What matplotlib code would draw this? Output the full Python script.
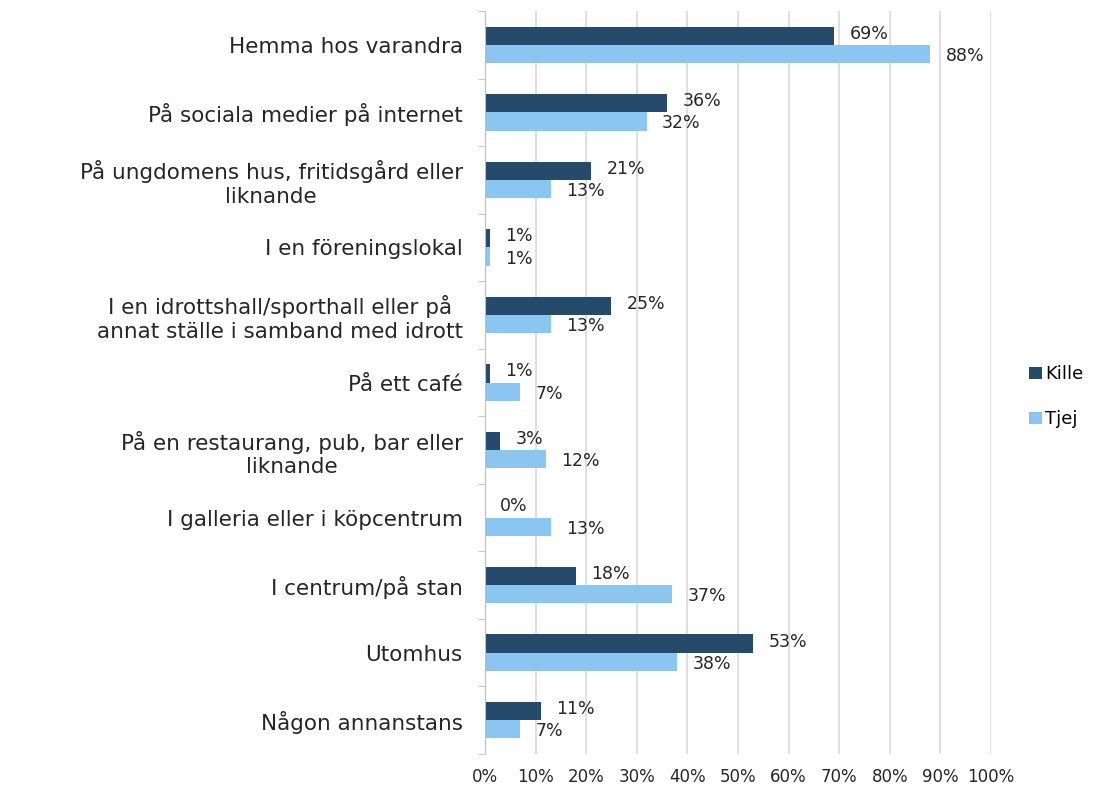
import numpy as np
import matplotlib.pyplot as plt
from matplotlib.ticker import FixedLocator, PercentFormatter

plt.rcParams['font.family'] = ['DejaVu Sans']

categories = [
    'Hemma hos varandra',
    'På sociala medier på internet',
    'På ungdomens hus, fritidsgård eller\nliknande',
    'I en föreningslokal',
    'I en idrottshall/sporthall eller på\nannat ställe i samband med idrott',
    'På ett café',
    'På en restaurang, pub, bar eller\nliknande',
    'I galleria eller i köpcentrum',
    'I centrum/på stan',
    'Utomhus',
    'Någon annanstans',
]
kille = [69, 36, 21, 1, 25, 1, 3, 0, 18, 53, 11]
tjej = [88, 32, 13, 1, 13, 7, 12, 13, 37, 38, 7]

dark = '#264A6B'
light = '#8AC6EF'

fig = plt.figure(figsize=(11.08, 7.89), dpi=100)
ax = fig.add_axes([0.4377, 0.0444, 0.4567, 0.9416])

y = np.arange(len(categories))
h = 0.27
ax.barh(y - h / 2, kille, height=h, color=dark, label='Kille')
ax.barh(y + h / 2, tjej, height=h, color=light, label='Tjej')

for yi, v in zip(y, kille):
    ax.text(v + 3, yi - h / 2 - 0.03, f'{v}%', va='center', ha='left', fontsize=12.5, color='#262626')
for yi, v in zip(y, tjej):
    ax.text(v + 3, yi + h / 2 + 0.03, f'{v}%', va='center', ha='left', fontsize=12.5, color='#262626')

ax.set_xlim(0, 100)
ax.set_ylim(len(categories) - 0.5, -0.5)
ax.set_xticks(np.arange(0, 101, 10))
ax.xaxis.set_major_formatter(PercentFormatter(decimals=0))
ax.grid(axis='x', color='#D9D9D9', linewidth=1.2)
ax.set_axisbelow(True)

ax.set_yticks(y)
ax.set_yticklabels(categories, fontsize=15.5, color='#262626', multialignment='center')
ax.yaxis.set_minor_locator(FixedLocator(np.arange(-0.5, len(categories), 1)))
ax.tick_params(axis='y', which='major', length=0, pad=16)
ax.tick_params(axis='y', which='minor', length=5, color='#BFBFBF')
ax.tick_params(axis='x', length=0, labelsize=12, labelcolor='#262626', pad=10)

for s in ['top', 'right', 'bottom']:
    ax.spines[s].set_visible(False)
ax.spines['left'].set_color('#BFBFBF')

ax.legend(loc='center left', bbox_to_anchor=(0.914, 0.497), bbox_transform=fig.transFigure,
          frameon=False, handlelength=0.7, handleheight=0.7, handletextpad=0.2,
          labelspacing=1.5, fontsize=13)

fig.savefig('out.png', dpi=100)
